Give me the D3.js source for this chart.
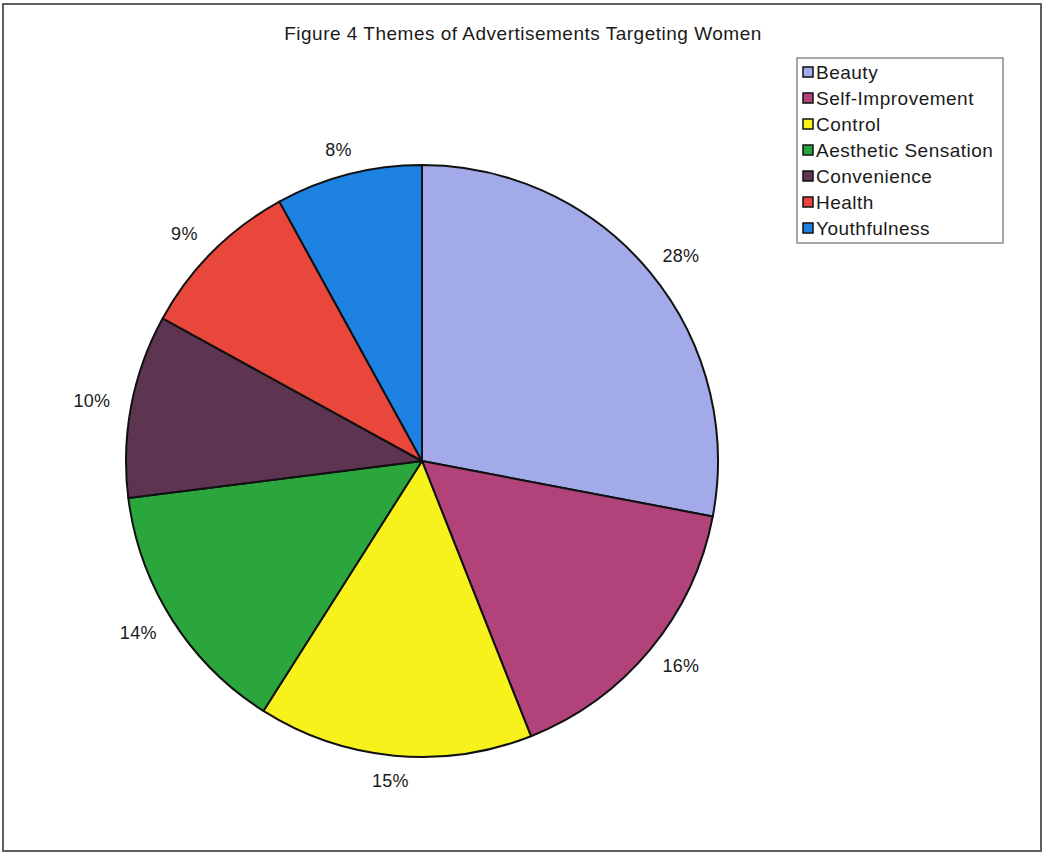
<!DOCTYPE html>
<html>
<head>
<meta charset="utf-8">
<script src="https://cdn.jsdelivr.net/npm/d3@7"></script>
<style>
  html, body { margin: 0; padding: 0; background: #fff; }
  svg { display: block; }
  text { font-family: "Liberation Sans", Arial, sans-serif; fill: #1a1a1a; }
</style>
</head>
<body>
<svg id="chart" width="1044" height="855"></svg>
<script>
// Share of advertising themes (percent)
const categories = ["Beauty", "Self-Improvement", "Control", "Aesthetic Sensation", "Convenience", "Health", "Youthfulness"];
const values = [28, 16, 15, 14, 10, 9, 8];
const colors = ["#a2aaea", "#b2437a", "#f7f21c", "#2aa63c", "#5d3550", "#e9473c", "#1e82e2"];
const title = "Figure 4 Themes of Advertisements Targeting Women";

const svg = d3.select("#chart");
const W = 1044, H = 855;

// outer frame
svg.append("rect")
  .attr("x", 3).attr("y", 4).attr("width", W - 6).attr("height", H - 8)
  .attr("fill", "#fff").attr("stroke", "#5e5e5e").attr("stroke-width", 2);

svg.append("text")
  .attr("x", 523).attr("y", 40)
  .attr("text-anchor", "middle")
  .attr("font-size", 19)
  .attr("letter-spacing", 0.5)
  .text(title);

const cx = 422, cy = 461, R = 296;
const data = categories.map((c, i) => ({ name: c, value: values[i], color: colors[i] }));

const pie = d3.pie().value(d => d.value).sort(null);
const arc = d3.arc().innerRadius(0).outerRadius(R);
const arcs = pie(data);

const g = svg.append("g").attr("transform", `translate(${cx},${cy})`);
g.selectAll("path.slice")
  .data(arcs)
  .join("path")
  .attr("class", "slice")
  .attr("d", arc)
  .attr("fill", d => d.data.color)
  .attr("stroke", "#111")
  .attr("stroke-width", 2)
  .attr("stroke-linejoin", "round");

// percentage labels outside the pie
g.selectAll("text.pct")
  .data(arcs)
  .join("text")
  .attr("class", "pct")
  .attr("font-size", 18)
  .attr("letter-spacing", 0.3)
  .attr("text-anchor", "middle")
  .attr("dominant-baseline", "central")
  .attr("x", d => {
    const a = (d.startAngle + d.endAngle) / 2;
    return Math.sin(a) * (R + 22) + Math.sin(a) * 18;
  })
  .attr("y", d => {
    const a = (d.startAngle + d.endAngle) / 2;
    return -Math.cos(a) * (R + 22) - Math.cos(a) * 3;
  })
  .text(d => d.data.value + "%");

// legend
const lg = svg.append("g").attr("transform", "translate(797,58)");
lg.append("rect")
  .attr("width", 206).attr("height", 185)
  .attr("fill", "#fff").attr("stroke", "#8a8a8a").attr("stroke-width", 1.5);

const items = lg.selectAll("g.item")
  .data(data)
  .join("g")
  .attr("class", "item")
  .attr("transform", (d, i) => `translate(6,${14 + i * 26})`);

items.append("rect")
  .attr("x", 0).attr("y", -5).attr("width", 10).attr("height", 10)
  .attr("fill", d => d.color)
  .attr("stroke", "#111").attr("stroke-width", 1.5);

items.append("text")
  .attr("x", 13).attr("y", 0)
  .attr("dominant-baseline", "central")
  .attr("font-size", 19)
  .attr("letter-spacing", 0.5)
  .text(d => d.name);
</script>
</body>
</html>
